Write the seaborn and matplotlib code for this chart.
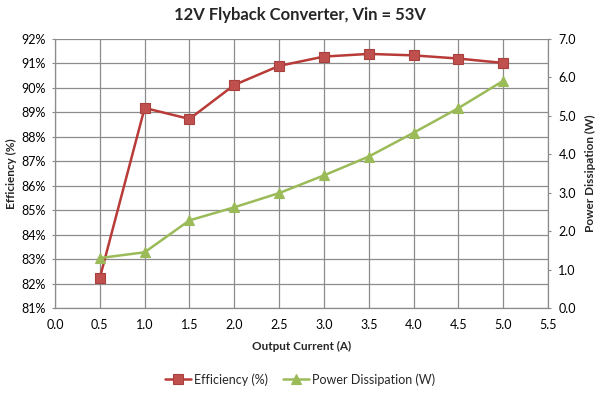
import matplotlib
matplotlib.use("Agg")
import matplotlib.pyplot as plt
import seaborn as sns
import pandas as pd
from matplotlib.ticker import FuncFormatter, MultipleLocator

current = [0.5, 1.0, 1.5, 2.0, 2.5, 3.0, 3.5, 4.0, 4.5, 5.0]
efficiency = [82.23, 89.18, 88.73, 90.12, 90.90, 91.28, 91.39, 91.33, 91.20, 91.02]
power = [1.30, 1.45, 2.28, 2.62, 2.99, 3.45, 3.94, 4.56, 5.20, 5.91]

title = "12V Flyback Converter, Vin = 53V"
xlabel = "Output Current (A)"
ylabel_left = "Efficiency (%)"
ylabel_right = "Power Dissipation (W)"

df = pd.DataFrame({"current": current, "eff": efficiency, "pwr": power})

sns.set_style("white")
plt.rcParams["font.family"] = ["Lato", "DejaVu Sans"]

fig = plt.figure(figsize=(6, 3.93), dpi=100)
ax = fig.add_axes([0.0917, 0.2163, 0.8216, 0.6845])
ax2 = ax.twinx()

red_line = "#B83B38"
red_fill = "#C0504D"
green = "#9BBB59"
grid_c = "#8C8C8C"

sns.lineplot(data=df, x="current", y="eff", ax=ax, color=red_line, linewidth=1.8,
             marker="s", markersize=7, markerfacecolor=red_fill,
             markeredgecolor="#A8403D", markeredgewidth=0.8, label="Efficiency (%)", legend=False)
sns.lineplot(data=df, x="current", y="pwr", ax=ax2, color=green, linewidth=1.8,
             marker="^", markersize=7, markerfacecolor=green,
             markeredgecolor=green, markeredgewidth=0.8, label="Power Dissipation (W)", legend=False)

ax.set_xlim(0, 5.5)
ax.set_ylim(81, 92)
ax2.set_ylim(0, 7)
ax.xaxis.set_major_locator(MultipleLocator(0.5))
ax.yaxis.set_major_locator(MultipleLocator(1))
ax2.yaxis.set_major_locator(MultipleLocator(1))
ax.xaxis.set_major_formatter(FuncFormatter(lambda v, p: f"{v:.1f}"))
ax.yaxis.set_major_formatter(FuncFormatter(lambda v, p: f"{v:.0f}%"))
ax2.yaxis.set_major_formatter(FuncFormatter(lambda v, p: f"{v:.1f}"))

ax.grid(True, color=grid_c, linewidth=0.9)
ax.set_axisbelow(True)
for a in (ax, ax2):
    for s in a.spines.values():
        s.set_visible(False)
ax.spines["left"].set_visible(True)
ax.spines["bottom"].set_visible(True)
ax2.spines["right"].set_visible(True)
for s in (ax.spines["left"], ax.spines["bottom"], ax2.spines["right"]):
    s.set_color(grid_c)
    s.set_linewidth(0.9)

ax.tick_params(axis="x", labelsize=9, colors="#000000", length=0, pad=8)
ax.tick_params(axis="y", labelsize=9, labelcolor="#000000", length=2.5, color=grid_c, pad=4)
ax2.tick_params(axis="y", labelsize=9, labelcolor="#000000", length=2.5, color=grid_c,
                direction="out", pad=5)

ax.set_xlabel(xlabel, fontsize=8.5, fontweight="bold")
ax.set_ylabel(ylabel_left, fontsize=8.5, fontweight="bold")
ax2.set_ylabel(ylabel_right, fontsize=8.5, fontweight="bold")
ax.xaxis.set_label_coords(0.5, -0.123)
ax.yaxis.set_label_coords(-0.077, 0.5)
ax2.yaxis.set_label_coords(1.075, 0.5)

fig.suptitle(title, fontsize=12, fontweight="bold", x=0.5, y=0.982)

h1, l1 = ax.get_legend_handles_labels()
h2, l2 = ax2.get_legend_handles_labels()
fig.legend(h1 + h2, l1 + l2, loc="center", bbox_to_anchor=(0.5, 0.035), ncol=2,
           frameon=False, fontsize=9, handlelength=2.1, columnspacing=1.2, handletextpad=0.2)

fig.savefig("out.png", dpi=100)
